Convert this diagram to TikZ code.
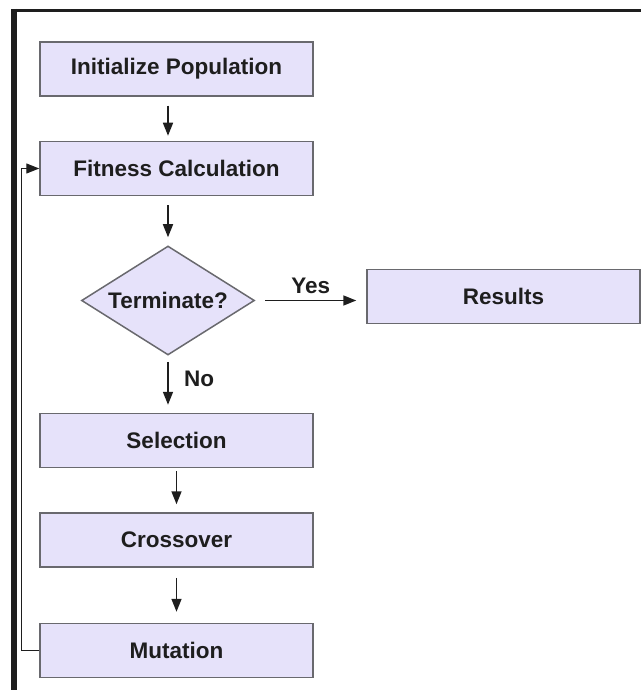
\documentclass[tikz,border=0pt]{standalone}
\usepackage{fontspec}
\setmainfont{Liberation Sans}
\usepackage{tikz}
\usetikzlibrary{shapes.geometric, arrows.meta, positioning, calc}
\usepackage{xcolor}
\definecolor{boxfill}{RGB}{230,226,250}
\definecolor{boxline}{RGB}{105,105,110}
\definecolor{ink}{RGB}{30,30,30}

\begin{document}
\begin{tikzpicture}[
  x=1pt, y=1pt,
  every node/.style={font=\fontsize{22.5}{26}\selectfont\bfseries, text=ink},
  process/.style={rectangle, draw=boxline, line width=1.5pt, fill=boxfill,
    minimum width=273pt, minimum height=54pt, inner sep=0pt},
  decision/.style={diamond, draw=boxline, line width=1.5pt, fill=boxfill, aspect=1.59,
    minimum width=173pt, minimum height=109pt, inner sep=0pt},
  arrow/.style={-{Triangle[length=13pt, width=10pt]}, line width=1.7pt, draw=ink},
  node distance=44pt
  ]
  \useasboundingbox (0,0) rectangle (641,-690);
  % frame
  \draw[line width=3pt, ink] (11,-10.5) -- (641,-10.5);
  \draw[line width=6pt, ink] (14,-9) -- (14,-690);

  \node[process] (init) at (176.5,-69) {Initialize Population};
  \node[process, below=of init] (fit) {Fitness Calculation};
  \node[decision, below=49pt of fit, xshift=-8.5pt] (term) {Terminate?};
  \node[process, right=111pt of term, yshift=4pt] (res) {Results};
  \node[process, below=57pt of term, xshift=8.5pt] (sel) {Selection};
  \node[process, below=of sel] (cross) {Crossover};
  \node[process, below=55pt of cross] (mut) {Mutation};

  \draw[arrow, shorten <=9pt, shorten >=5pt] (init.south -| term) -- (fit.north -| term);
  \draw[arrow, shorten <=9pt, shorten >=8pt] (fit.south -| term) -- (term);
  \draw[arrow, shorten <=10pt, shorten >=10pt] (term.east) -- node[above=3pt] {Yes} (term.east -| res.west);
  \draw[arrow, shorten <=6pt, shorten >=8pt] (term.south) -- node[right=12pt, yshift=5pt] {No} (sel.north -| term);
  \draw[arrow, shorten <=3pt, shorten >=8pt] (sel) -- (cross);
  \draw[arrow, shorten <=10pt, shorten >=11pt] (cross) -- (mut);
  \draw[arrow, line width=1.2pt] (mut.west) -- ++(-18,0) |- (fit.west);
\end{tikzpicture}
\end{document}
